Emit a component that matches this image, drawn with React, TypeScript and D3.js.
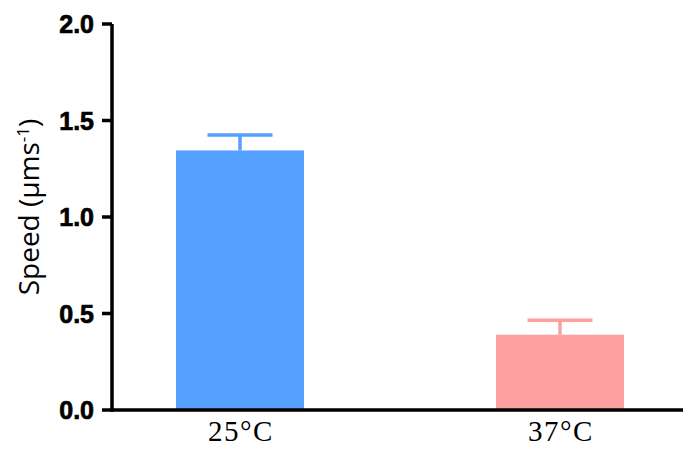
import React from "react";
import * as d3 from "d3";

const categories = ["25°C", "37°C"];
const means = [1.345, 0.39];
const errors = [0.08, 0.075];
const colors = ["#56A0FF", "#FFA0A0"];
const yTicks = [0, 0.5, 1.0, 1.5, 2.0];

export default function App() {
  const W = 683;
  const H = 451;
  const axisX = 112;
  const axisY = 410;
  const y = d3.scaleLinear().domain([0, 2]).range([axisY, 24]);
  const x = d3
    .scaleBand<string>()
    .domain(categories)
    .range([80, 720])
    .paddingInner(0.6)
    .paddingOuter(0.3);
  const capW = 65;
  return (
    <svg
      width={W}
      height={H}
      style={{ position: "absolute", left: 0, top: 0, background: "#fff" }}
    >
      {categories.map((c, i) => {
        const x0 = x(c)!;
        const bw = x.bandwidth();
        const cx = x0 + bw / 2;
        return (
          <g key={c}>
            <rect
              x={x0}
              y={y(means[i])}
              width={bw}
              height={axisY - y(means[i])}
              fill={colors[i]}
            />
            <line
              x1={cx}
              x2={cx}
              y1={y(means[i])}
              y2={y(means[i] + errors[i])}
              stroke={colors[i]}
              strokeWidth={3.5}
            />
            <line
              x1={cx - capW / 2}
              x2={cx + capW / 2}
              y1={y(means[i] + errors[i])}
              y2={y(means[i] + errors[i])}
              stroke={colors[i]}
              strokeWidth={3.5}
            />
            <text
              x={cx + 1}
              y={441}
              textAnchor="middle"
              fontFamily="'Liberation Serif', 'Times New Roman', serif"
              fontSize={29}
              letterSpacing={1.5}
              fill="#000"
            >
              {c}
            </text>
          </g>
        );
      })}
      <line x1={axisX} x2={W} y1={axisY} y2={axisY} stroke="#000" strokeWidth={3.5} />
      <line x1={axisX} x2={axisX} y1={y(2)} y2={axisY + 1.75} stroke="#000" strokeWidth={3.5} />
      {yTicks.map((t) => (
        <g key={t}>
          <line x1={102} x2={axisX} y1={y(t)} y2={y(t)} stroke="#000" strokeWidth={3.5} />
          <text
            x={94}
            y={y(t)}
            dy="0.36em"
            textAnchor="end"
            fontFamily="'Liberation Sans', Arial, sans-serif"
            fontWeight="bold"
            fontSize={25}
            stroke="#000"
            strokeWidth={0.7}
            fill="#000"
          >
            {d3.format(".1f")(t)}
          </text>
        </g>
      ))}
      <text
        transform={`translate(39, 207) rotate(-90)`}
        textAnchor="middle"
        fontFamily="'Open Sans', sans-serif"
        fontSize={28}
        fill="#000"
      >
        Speed (μms
        <tspan dy={-10} fontSize={17}>-1</tspan>
        <tspan dy={10}>)</tspan>
      </text>
    </svg>
  );
}
